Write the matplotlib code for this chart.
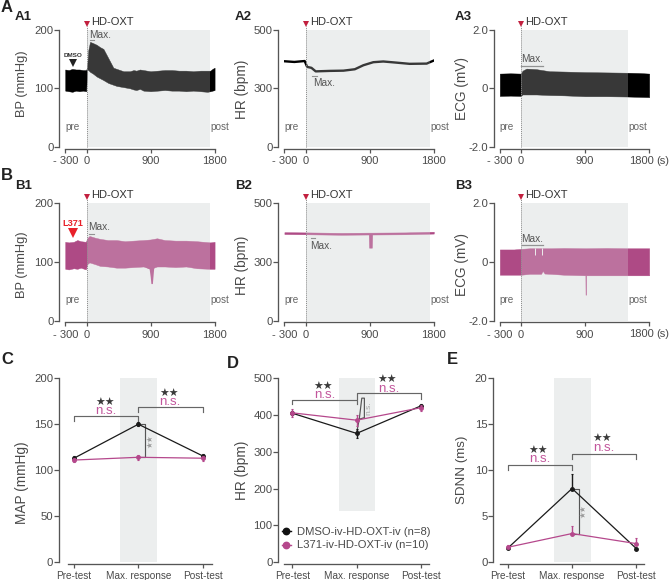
import matplotlib
matplotlib.use("Agg")
import matplotlib.pyplot as plt

plt.rcParams['font.family'] = ['Liberation Sans', 'DejaVu Sans']

W, H = 669, 580

# ---- traces, upper and lower envelope ----
a1_t = [-300, -250, -200, -150, -100, -50, -5, 8, 25, 49, 90, 143, 190, 237, 307, 377, 424, 520, 610, 660, 700, 750, 800,
        900, 1000, 1100, 1200, 1300, 1400, 1500, 1600, 1700, 1740, 1770, 1800]
a1_up = [132, 131, 133, 132, 132, 131, 131, 136, 165, 179, 177, 174, 170, 167, 151, 135, 133, 129, 129, 131, 130, 132, 131,
         129, 130, 131, 131, 130, 130, 129, 130, 130, 130, 133, 135]
a1_low = [96, 95, 94, 96, 95, 96, 95, 132, 131, 128, 125, 120, 117, 114, 109, 106, 104, 102, 100, 98, 97, 99, 96,
          95, 96, 97, 96, 96, 95, 96, 95, 94, 95, 96, 97]

a2_t = [-300, -160, -15, 20, 80, 140, 340, 530, 690, 810, 950, 1090, 1280, 1460, 1700, 1745, 1800]
a2_hr = [365, 362, 366, 341, 337, 322, 324, 325, 331, 348, 361, 364, 359, 354, 355, 361, 368]

a3_t = [-300, -150, -5, 20, 75, 215, 400, 600, 900, 1200, 1500, 1650, 1800]
a3_up = [0.50, 0.51, 0.50, 0.60, 0.67, 0.65, 0.58, 0.57, 0.55, 0.54, 0.53, 0.52, 0.50]
a3_low = [-0.26, -0.25, -0.26, -0.21, -0.21, -0.21, -0.23, -0.24, -0.27, -0.27, -0.28, -0.29, -0.30]

b1_t = [-300, -250, -180, -130, -80, -10, 10, 40, 120, 190, 300, 420, 540, 660, 800, 900, 990, 1100, 1250, 1400, 1550, 1740, 1800]
b1_up = [134, 133, 134, 137, 135, 134, 140, 144, 141, 139, 137, 137, 135, 136, 137, 138, 140, 137, 136, 136, 135, 133, 134]
b1_low = [88, 87, 89, 88, 90, 87, 96, 99, 96, 93, 92, 90, 90, 91, 92, 88, 92, 92, 91, 92, 89, 88, 88]
b1_dip_t = [820, 880, 895, 905, 925, 945]
b1_dip = [92, 88, 75, 63, 63, 91]

b2_t = [-300, 0, 500, 885, 890, 930, 935, 1400, 1800]
b2_up = [376, 375, 373, 374, 374, 374, 374, 375, 378]
b2_low = [368, 367, 365, 366, 310, 310, 366, 367, 370]

b3_t = [-300, -100, 0, 120, 280, 303, 330, 420, 600, 903, 905, 911, 913, 1200, 1500, 1800]
b3_up = [0.42, 0.42, 0.44, 0.46, 0.46, 0.46, 0.46, 0.46, 0.47, 0.46, 0.46, 0.46, 0.46, 0.47, 0.46, 0.46]
b3_low = [-0.44, -0.44, -0.44, -0.41, -0.41, -0.31, -0.40, -0.41, -0.44, -0.46, -1.12, -1.12, -0.46, -0.46, -0.46, -0.46]
b3_notch = [190, 300]
b3_notch_low = 0.23

# ---- group means ----
groups = ['Pre-test', 'Max. response', 'Post-test']
group_names = ['DMSO-iv-HD-OXT-iv (n=8)', 'L371-iv-HD-OXT-iv (n=10)']

map_dmso = [113, 150, 115.5]
map_l371 = [111, 114, 113]
map_dmso_err = [2, 2, 2]
map_l371_err = [2, 2.5, 2.5]

hr_dmso = [405, 350, 425]
hr_l371 = [406, 386, 420]
hr_dmso_err = [6, 12, 6]
hr_l371_err = [10, 15, 8]

sdnn_dmso = [1.5, 8.0, 1.45]
sdnn_l371 = [1.6, 3.1, 2.0]
sdnn_dmso_err = [0.2, 1.55, 0.1]
sdnn_l371_err = [0.25, 0.85, 0.6]

BLACK = '#000000'
PINK = '#AE4A85'
LINE_PINK = '#B5488C'
BAND = '#ECEEEE'
AXC = '#555555'
TXT = '#4a4a4a'


def txt(px, py, s, **kw):
    kw.setdefault('color', TXT)
    kw.setdefault('va', 'center')
    kw.setdefault('ha', 'left')
    return fig.text(px / W, 1 - py / H, s, **kw)


def make_ax(x0, x1, ytop, ybot, axis_x, axis_y):
    ax = fig.add_axes([x0 / W, 1 - ybot / H, (x1 - x0) / W, (ybot - ytop) / H])
    ax.patch.set_visible(False)
    for s in ['top', 'right']:
        ax.spines[s].set_visible(False)
    ax.spines['left'].set_position(('outward', (x0 - axis_x) * 0.72))
    ax.spines['bottom'].set_position(('outward', (axis_y - ybot) * 0.72))
    for s in ['left', 'bottom']:
        ax.spines[s].set_linewidth(0.95)
        ax.spines[s].set_color(AXC)
    ax.tick_params(axis='y', length=3.6, width=0.9, color=AXC, labelcolor=TXT, labelsize=8.2, pad=0.5)
    ax.tick_params(axis='x', length=2.8, width=0.9, color=AXC, labelcolor=TXT, labelsize=8, pad=2.5)
    return ax


def trace_panel(x0, ytop, ylim, yticks, ylabels, band_end, last_label='1800'):
    # x0 is the pixel of t = -300, 64 px per 900 s
    x1 = x0 + 149.4
    ax = make_ax(x0, x1, ytop, ytop + 117.6, x0 - 6, ytop + 119.2)
    ax.set_xlim(-300, 1800)
    ax.set_ylim(*ylim)
    ax.set_xticks([-300, 0, 900, 1800])
    ax.set_xticklabels(['- 300', '0', '900', last_label])
    ax.set_yticks(yticks)
    ax.set_yticklabels(ylabels)
    ax.axvspan(0, band_end, color=BAND, lw=0, zorder=0)
    # band is laid over the trace again, that is what lightens it inside
    ax.axvspan(0, band_end, color=BAND, lw=0, alpha=0.24, zorder=3)
    ax.plot([0, 0], [0, 1.03], transform=ax.get_xaxis_transform(), color='#8a8a8a', lw=0.7, ls=(0, (1, 1)),
            clip_on=False, zorder=4)
    ax.plot(0, 1.05, transform=ax.get_xaxis_transform(), marker='v', ms=5, color='#C2203F', mew=0, clip_on=False)
    return ax


def env(ax, t, up, low, color):
    ax.fill_between(t, low, up, color=color, lw=0.3, zorder=2)


def mean_panel(x0, ytop, tick0, ylim, yticks, axis_x, axis_y, dmso, l371, dmso_err, l371_err, band_top=None, upper_only=False):
    x1 = x0 + 144.6
    ybot = ytop + 183.7
    ax = make_ax(x0, x1, ytop, ybot, axis_x, axis_y)
    unit = 64.35
    ax.set_xlim((x0 - tick0) / unit, (x1 - tick0) / unit)
    ax.set_ylim(*ylim)
    ax.set_xticks(range(3))
    ax.set_xticklabels(groups, fontsize=7.2)
    ax.set_yticks(yticks)
    ax.axvspan(0.72, 1.29, ymin=0 if band_top is None else band_top, color=BAND, lw=0, zorder=0)
    lo_d = [0] * 3 if upper_only else dmso_err
    lo_l = [0] * 3 if upper_only else l371_err
    ax.errorbar(range(3), dmso, yerr=[lo_d, dmso_err], color='#1a1a1a', lw=0.9, marker='o', ms=2.5, elinewidth=1,
                capsize=0.7, capthick=0.8, zorder=3)
    ax.errorbar(range(3), l371, yerr=[lo_l, l371_err], color=LINE_PINK, lw=0.9, marker='o', ms=2.5, elinewidth=1,
                capsize=0.7, capthick=0.8, zorder=4)
    return ax


def bracket(ax, x0, x1, y, drop):
    ax.plot([x0, x0, x1, x1], [y - drop, y, y, y - drop], color='#666666', lw=0.85, clip_on=False, zorder=2)


def stars(px, py, color='#3a3a3a', size=7.8, rotation=0):
    txt(px, py, '★★', ha='center', color=color, fontsize=size, rotation=rotation, family='DejaVu Sans')


def ns(px, py):
    txt(px, py, 'n.s.', ha='center', color='#C2569C', fontsize=9.5)


fig = plt.figure(figsize=(W / 100, H / 100), dpi=100)

# ---- row A ----
TOP_A, TOP_B = 29.5, 203
bp_t = [0, 100, 200]
hr_t = [0, 250, 500]    # the middle tick sits half way but is printed 300
ecg_t = [-2, 0, 2]
bp_l = ['0', '100', '200']
hr_l = ['0', '300', '500']
ecg_l = ['-2.0', '0', '2.0']

ax = trace_panel(65.2, TOP_A, (0, 200), bp_t, bp_l, 1740)
env(ax, a1_t, a1_up, a1_low, BLACK)
ax.plot([50, 110], [182, 182], color='#777777', lw=0.8)

ax = trace_panel(284.4, TOP_A, (0, 500), hr_t, hr_l, 1745)
ax.plot(a2_t, a2_hr, color=BLACK, lw=1.7, zorder=2)
ax.plot([94, 160], [304, 304], color='#777777', lw=0.8)

ax = trace_panel(499.8, TOP_A, (-2, 2), ecg_t, ecg_l, 1500, last_label='')
env(ax, a3_t, a3_up, a3_low, BLACK)
ax.plot([0, 310], [0.76, 0.76], color='#777777', lw=0.9)

# ---- row B ----
ax = trace_panel(65.2, TOP_B, (0, 200), bp_t, bp_l, 1740)
env(ax, b1_t, b1_up, b1_low, PINK)
ax.fill_between(b1_dip_t, b1_dip, 100, color=PINK, lw=0, zorder=2)
ax.plot([30, 100], [148, 148], color='#777777', lw=0.8)

ax = trace_panel(284.4, TOP_B, (0, 500), hr_t, hr_l, 1745)
env(ax, b2_t, b2_up, b2_low, PINK)
ax.plot([70, 127], [353, 353], color='#777777', lw=0.8)

ax = trace_panel(499.8, TOP_B, (-2, 2), ecg_t, ecg_l, 1500, last_label='')
env(ax, b3_t, b3_up, b3_low, PINK)
ax.vlines(b3_notch, b3_notch_low, 0.47, color=BAND, lw=0.7, zorder=2.5)
ax.plot([10, 310], [0.56, 0.56], color='#777777', lw=0.9)

for top, py_hd, py_pre in [(TOP_A, 22, 126.7), (TOP_B, 195.3, 300)]:
    for left_hd, left_pre, left_post in [(90.7, 65, 210.7), (310, 284, 430), (525.3, 499.3, 628.3)]:
        txt(left_hd, py_hd, 'HD-OXT', fontsize=8, color='#333333')
        txt(left_pre, py_pre, 'pre', fontsize=7.2, color='#666666')
        txt(left_post, py_pre, 'post', fontsize=7.2, color='#666666')

for px, py in [(88.7, 35), (312.7, 83), (521.3, 59.3), (88, 227), (310, 246), (521.3, 239)]:
    txt(px, py, 'Max.', fontsize=7.3, color='#555555')

# last tick label of the ECG panels sits left of its tick, with the unit after it
for py in [160.5, 334]:
    txt(641, py, '1800', fontsize=8, ha='center')
    txt(663, py, '(s)', fontsize=8, ha='center')

# drug labels
txt(72.7, 55.5, 'DMSO', fontsize=4.6, ha='center', color='#333333', fontweight='bold')
txt(72.7, 224, 'L371', fontsize=6.6, ha='center', color='#E8202A', fontweight='bold')
fig.add_artist(plt.Line2D([72.7 / W], [1 - 63.3 / H], marker='v', ms=6, color='#222222', mew=0))
fig.add_artist(plt.Line2D([72.7 / W], [1 - 232.7 / H], marker='v', ms=7, color='#E8202A', mew=0))

# ---- row C, D, E ----
ax = mean_panel(67.7, 378.3, 74, (0, 200), [0, 50, 100, 150, 200], 59, 564, map_dmso, map_l371, map_dmso_err, map_l371_err)
bracket(ax, 0, 1, 159, 5.5)
bracket(ax, 1, 2, 169, 5.5)
ax.plot([1, 1.11, 1.11, 1], [150, 150, 114, 114], color='#555555', lw=0.85, zorder=2)
stars(105, 402.5)
ns(106, 411)
stars(169, 393.5)
ns(170, 402)
stars(149.7, 441.5, color='#9a9a9a', size=5.5, rotation=90)

ax = mean_panel(284.3, 378.3, 292.3, (0, 500), [0, 100, 200, 300, 400, 500], 278.3, 563.5, hr_dmso, hr_l371, hr_dmso_err, hr_l371_err,
                band_top=0.28)
bracket(ax, 0, 1, 441, 12)
bracket(ax, 1, 2, 459, 14)
ax.plot([1, 1.04, 1.08, 1.12, 1.12, 1.03], [352, 388, 446, 446, 393, 388], color='#555555', lw=0.85, zorder=2)
stars(323, 386.5)
ns(324.5, 395)
stars(387.5, 379.5)
ns(388.5, 388.5)
txt(369, 408, 'n.s.', ha='center', color='#a8a8a8', fontsize=6, rotation=90)
handles = [plt.Line2D([], [], color='#111111', lw=1, marker='o', ms=4.6),
           plt.Line2D([], [], color=LINE_PINK, lw=1, marker='o', ms=4.6)]
ax.legend(handles, group_names, frameon=False, loc='lower left', bbox_to_anchor=((281.7 - 284.3) / 144.6, (562 - 550.5) / 183.7),
          fontsize=8.1, labelcolor=TXT, handlelength=0.8, handletextpad=0.6, labelspacing=0.3, borderpad=0, borderaxespad=0)

ax = mean_panel(499.7, 378.3, 507.7, (0, 20), [0, 5, 10, 15, 20], 493.3, 563.5, sdnn_dmso, sdnn_l371, sdnn_dmso_err, sdnn_l371_err,
                upper_only=True)
bracket(ax, 0, 1, 10.6, 0.55)
bracket(ax, 1, 2, 11.8, 0.55)
ax.plot([1, 1.105, 1.105, 1], [8, 8, 3.1, 3.1], color='#555555', lw=0.85, zorder=2)
stars(538.3, 451)
ns(539.3, 459.5)
stars(602.3, 439)
ns(604, 448)
stars(582.7, 511, color='#9a9a9a', size=5.5, rotation=90)

# ---- y labels ----
for px, py, s, size in [(22, 84, 'BP (mmHg)', 9.3), (241.7, 89, 'HR (bpm)', 9.8), (461.7, 89, 'ECG (mV)', 9.8),
                        (22, 265, 'BP (mmHg)', 9.3), (241.7, 265, 'HR (bpm)', 9.8), (461.7, 265, 'ECG (mV)', 9.8),
                        (22, 483, 'MAP (mmHg)', 9.8), (241.7, 470, 'HR (bpm)', 9.8), (462, 470, 'SDNN (ms)', 9.6)]:
    txt(px, py, s, rotation=90, ha='center', fontsize=size)

# ---- panel letters ----
for px, py, s in [(0.5, 7, 'A'), (0.5, 176, 'B'), (1, 359, 'C'), (227, 363, 'D'), (447, 360, 'E')]:
    txt(px, py, s, fontsize=12, fontweight='bold', color='#222222')
for px, py, s in [(15, 17, 'A1'), (235, 17, 'A2'), (455, 17, 'A3'), (15, 186, 'B1'), (235, 186, 'B2'), (455, 186, 'B3')]:
    txt(px, py, s, fontsize=9.5, fontweight='bold', color='#222222')

fig.savefig('out.png', dpi=100)
